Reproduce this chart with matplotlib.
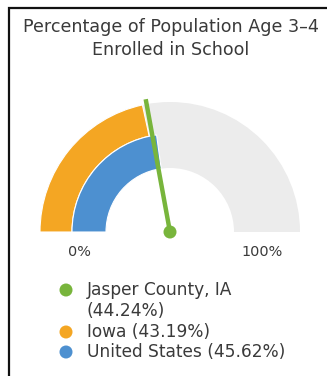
import numpy as np
import matplotlib
matplotlib.use("Agg")
import matplotlib.pyplot as plt
from matplotlib.patches import Wedge, Circle

plt.rcParams['font.family'] = ['DejaVu Sans']

title_lines = ["Percentage of Population Age 3\u20134", "Enrolled in School"]
names = ["Jasper County, IA", "Iowa", "United States"]
values = [44.24, 43.19, 45.62]
colors = ["#78b53c", "#f4a623", "#4d90d0"]
scale_labels = ["0%", "100%"]

W, H = 327, 376
fig = plt.figure(figsize=(W / 100, H / 100), dpi=100)
ax = fig.add_axes([0, 0, 1, 1])
ax.set_xlim(0, W)
ax.set_ylim(H, 0)
ax.axis("off")
renderer = fig.canvas.get_renderer()

def fit_text(x, y, s, width_px, **kw):
    # draw text and rescale its font so that it spans width_px pixels
    t = ax.text(x, y, s, **kw)
    w = t.get_window_extent(renderer).width
    t.set_fontsize(t.get_fontsize() * width_px / w)
    return t

# frame on the left and top
ax.plot([9, 9, W + 2], [H + 2, 7.5, 7.5], color="#111111", lw=1.6,
        solid_joinstyle="miter", clip_on=False)

cx, cy = 170, 232
r_in, r_mid, r_out = 64, 98, 130
text_color = "#3a3a3a"

def ang(v):
    # 0% at the left end of the dial, 100% at the right end (screen y points down)
    return 180 + 180 * v / 100.0

# background track
ax.add_patch(Wedge((cx, cy), r_out, 180, 360, width=r_out - r_in,
                   facecolor="#ececec", edgecolor="none"))

# state ring (outer) and national ring (inner)
ax.add_patch(Wedge((cx, cy), r_out, 180, ang(values[1]), width=r_out - r_mid,
                   facecolor=colors[1], edgecolor="white", lw=0.8))
ax.add_patch(Wedge((cx, cy), r_mid, 180, ang(values[2]), width=r_mid - r_in,
                   facecolor=colors[2], edgecolor="white", lw=0.8))

# county needle
t = np.deg2rad(ang(values[0]))
L = 135
ax.plot([cx, cx + L * np.cos(t)], [cy, cy + L * np.sin(t)],
        color=colors[0], lw=3.2, solid_capstyle="butt")
ax.add_patch(Circle((cx, cy), 6.5, facecolor=colors[0], edgecolor="none"))

# scale labels
t100 = fit_text(cx + 92, 252, scale_labels[1], 41, ha="center", va="center",
                fontsize=10, color=text_color)
ax.text(cx - 91, 252, scale_labels[0], ha="center", va="center",
        fontsize=t100.get_fontsize(), color=text_color)

# title
tt = fit_text(171, 27, title_lines[0], 296, ha="center", va="center",
              fontsize=11, color=text_color)
ax.text(171, 50, title_lines[1], ha="center", va="center",
        fontsize=tt.get_fontsize(), color=text_color)

# legend
lines = [
    (290, colors[0], names[0]),
    (311, None, f"({values[0]:.2f}%)"),
    (332, colors[1], f"{names[1]} ({values[1]:.2f}%)"),
    (352, colors[2], f"{names[2]} ({values[2]:.2f}%)"),
]
lt = fit_text(87, lines[3][0], lines[3][2], 199, ha="left", va="center",
              fontsize=10, color=text_color)
fs = lt.get_fontsize()
for y, c, lab in lines:
    if c is not None:
        ax.add_patch(Circle((66, y), 6.5, facecolor=c, edgecolor="none"))
    if lab != lines[3][2]:
        ax.text(87, y, lab, ha="left", va="center", fontsize=fs,
                color=text_color)

fig.savefig("out.png", dpi=100, facecolor="white")
